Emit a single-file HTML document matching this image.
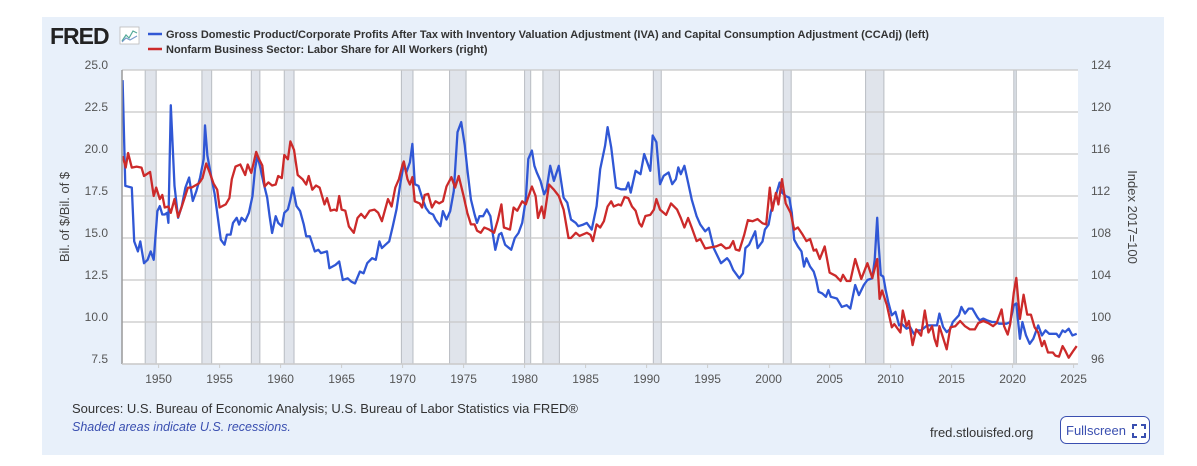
<!DOCTYPE html>
<html><head><meta charset="utf-8"><style>
body{margin:0;background:#fff;width:1197px;height:466px;overflow:hidden;font-family:"Liberation Sans",sans-serif;}
#panel{position:absolute;left:42px;top:17px;width:1122px;height:438px;background:#e8f0fa;}
</style></head><body>
<div id="panel"></div>
<svg id="chart" width="1197" height="466" style="position:absolute;left:0;top:0">
<g>
<text x="50" y="44" font-size="23" font-weight="bold" fill="#222" font-family="Liberation Sans,sans-serif" letter-spacing="-1">FRED</text>
<rect x="120" y="27" width="19" height="17" fill="#fff" stroke="#bbb" stroke-width="0.8"/>
<polyline points="122,41 126,35 129,38 133,31 137,33" fill="none" stroke="#5a9" stroke-width="1.2"/>
<polyline points="122,42 126,38 130,40 137,36" fill="none" stroke="#79c" stroke-width="1.2"/>
</g>
<g>
<line x1="148" y1="34" x2="162" y2="34" stroke="#3057d5" stroke-width="2.5"/>
<text x="166" y="38" font-size="11" font-weight="bold" fill="#333">Gross Domestic Product/Corporate Profits After Tax with Inventory Valuation Adjustment (IVA) and Capital Consumption Adjustment (CCAdj) (left)</text>
<line x1="148" y1="49" x2="162" y2="49" stroke="#cc2a2a" stroke-width="2.5"/>
<text x="166" y="53" font-size="11" font-weight="bold" fill="#333">Nonfarm Business Sector: Labor Share for All Workers (right)</text>
</g>
<rect x="122" y="70" width="956" height="294" fill="#fff"/>
<g id="rec"></g><g id="grid"></g><g id="lines"></g><g id="axes"></g>
<text transform="translate(69,217) rotate(-90)" text-anchor="middle" font-size="13" fill="#444">Bil. of $/Bil. of $</text>
<text transform="translate(1128,217) rotate(90)" text-anchor="middle" font-size="13" fill="#444">Index 2017=100</text>
<text x="72" y="413" font-size="13" fill="#333">Sources: U.S. Bureau of Economic Analysis; U.S. Bureau of Labor Statistics via FRED®</text>
<text x="72" y="431" font-size="12.5" font-style="italic" fill="#3a4fb0">Shaded areas indicate U.S. recessions.</text>
<text x="930" y="437" font-size="13" fill="#333">fred.stlouisfed.org</text>
<g>
<rect x="1060.5" y="416.5" width="89" height="27" rx="6" fill="#fff" stroke="#3a4fb0"/>
<text x="1066" y="435" font-size="13" fill="#3a4fb0">Fullscreen</text>
<path d="M1133 429v-4h4M1141 425h4v4M1145 433v4h-4M1137 437h-4v-4" fill="none" stroke="#3a4fb0" stroke-width="2"/>
</g>
</svg>
<script>
const blueYears=[1947.05,1947.27,1947.8,1948.0,1948.3,1948.5,1948.8,1949.1,1949.35,1949.6,1949.9,1950.1,1950.3,1950.5,1950.7,1950.8,1951.0,1951.3,1951.6,1951.9,1952.2,1952.5,1952.8,1953.1,1953.4,1953.7,1953.8,1954.0,1954.3,1954.6,1954.8,1955.1,1955.4,1955.6,1955.9,1956.1,1956.4,1956.6,1956.8,1957.1,1957.4,1957.7,1957.9,1958.1,1958.3,1958.6,1958.9,1959.1,1959.3,1959.6,1959.8,1960.1,1960.3,1960.6,1960.8,1961.0,1961.3,1961.6,1961.9,1962.1,1962.4,1962.8,1963.1,1963.3,1963.8,1964.0,1964.5,1964.8,1965.1,1965.5,1965.8,1966.1,1966.5,1966.8,1967.1,1967.5,1967.8,1968.1,1968.3,1968.6,1968.9,1969.2,1969.5,1969.8,1970.1,1970.3,1970.6,1970.8,1971.0,1971.3,1971.6,1971.9,1972.2,1972.5,1972.7,1973.1,1973.3,1973.6,1973.9,1974.2,1974.5,1974.8,1975.1,1975.3,1975.6,1975.9,1976.1,1976.3,1976.6,1976.9,1977.2,1977.4,1977.6,1977.9,1978.1,1978.4,1978.9,1979.2,1979.5,1979.8,1980.1,1980.3,1980.6,1980.8,1981.0,1981.3,1981.6,1981.8,1982.1,1982.4,1982.8,1983.2,1983.5,1983.8,1984.2,1984.4,1984.8,1985.1,1985.5,1985.9,1986.2,1986.6,1986.8,1987.1,1987.5,1987.9,1988.3,1988.5,1988.7,1989.1,1989.5,1989.8,1990.3,1990.5,1990.8,1991.1,1991.4,1991.8,1992.1,1992.4,1992.6,1992.8,1993.1,1993.4,1993.7,1994.1,1994.4,1994.8,1995.1,1995.5,1995.7,1996.1,1996.6,1996.8,1997.1,1997.6,1997.9,1998.1,1998.4,1998.9,1999.1,1999.5,1999.7,2000.0,2000.2,2000.5,2000.9,2001.1,2001.4,2001.7,2001.9,2002.1,2002.4,2002.7,2002.9,2003.1,2003.4,2003.7,2003.9,2004.1,2004.4,2004.7,2004.9,2005.1,2005.6,2006.0,2006.4,2006.7,2007.1,2007.4,2007.8,2008.1,2008.5,2008.7,2008.9,2009.0,2009.2,2009.4,2009.6,2009.8,2010.1,2010.4,2010.7,2010.9,2011.3,2011.6,2011.9,2012.2,2012.5,2013.0,2013.3,2013.8,2014.0,2014.3,2014.6,2014.9,2015.1,2015.6,2015.8,2016.1,2016.4,2016.7,2017.1,2017.3,2017.6,2017.9,2018.3,2018.6,2018.9,2019.5,2019.8,2020.1,2020.3,2020.6,2020.8,2021.1,2021.4,2021.7,2022.1,2022.4,2022.7,2023.0,2023.2,2023.6,2023.8,2024.1,2024.3,2024.6,2024.9,2025.25];
const blueValues=[24.4,18.1,18.0,14.8,14.2,14.8,13.5,13.7,14.2,13.7,16.6,16.9,16.4,16.4,16.5,15.9,22.9,18.1,16.2,16.9,18.0,18.6,17.2,17.8,18.6,19.7,21.7,19.9,18.7,17.6,16.5,14.9,14.6,15.2,15.2,15.9,16.2,15.8,16.2,16.0,16.5,17.5,19.1,19.9,19.3,18.3,17.4,16.3,15.3,16.3,15.9,15.7,16.5,16.7,17.3,18.0,16.9,16.6,15.8,15.1,15.1,14.2,14.3,14.1,14.2,13.2,13.4,13.6,12.5,12.6,12.4,12.3,13.0,12.9,13.5,13.8,13.7,14.8,14.4,14.6,14.8,15.7,16.7,18.2,19.4,18.9,19.5,20.6,18.2,18.1,17.4,16.8,16.5,16.4,16.1,15.7,16.6,16.1,16.6,17.8,21.3,21.9,20.5,19.1,17.3,16.4,15.9,16.3,16.3,16.7,16.3,15.2,14.3,15.2,15.3,14.6,14.3,15.0,15.3,15.9,17.3,19.7,20.2,19.3,18.9,18.4,17.6,17.9,19.3,18.4,19.3,17.4,17.1,16.1,15.9,15.7,15.8,15.9,15.5,16.9,19.1,20.5,21.6,20.4,18.0,17.9,17.9,18.3,17.7,19.0,18.8,20.0,19.0,21.1,20.7,18.2,18.7,18.9,18.2,18.5,19.2,18.8,19.3,18.3,17.3,16.3,15.8,15.4,15.6,14.4,14.1,13.5,13.8,13.6,13.1,12.6,12.9,14.4,14.6,15.4,14.4,14.8,15.5,15.8,16.6,17.3,18.3,17.7,17.5,17.4,16.5,14.9,14.5,14.2,13.3,13.8,13.3,13.0,12.5,11.8,11.7,11.5,11.9,11.5,11.4,10.9,11.0,10.8,12.2,11.6,12.2,12.5,12.6,13.7,16.2,14.8,12.8,12.7,11.9,11.2,10.4,10.6,9.8,9.9,9.6,9.7,9.3,9.5,9.5,9.8,9.8,9.8,10.5,9.7,9.4,9.6,10.0,10.4,10.9,10.5,10.8,10.8,10.3,10.1,10.2,10.1,10.0,10.0,9.9,9.9,10.0,11.0,11.1,9.0,10.0,9.2,8.7,9.0,9.8,9.2,9.5,9.3,9.3,9.3,9.1,9.5,9.4,9.6,9.2,9.3];
const redYears=[1947.05,1947.3,1947.5,1947.8,1948.2,1948.6,1948.8,1949.3,1949.6,1949.8,1950.1,1950.3,1950.5,1950.8,1951.0,1951.3,1951.6,1951.9,1952.1,1952.4,1952.7,1953.0,1953.3,1953.6,1953.9,1954.2,1954.5,1954.8,1955.0,1955.5,1955.8,1956.0,1956.3,1956.7,1957.1,1957.3,1957.6,1958.0,1958.2,1958.5,1958.7,1959.0,1959.3,1959.6,1959.8,1960.1,1960.3,1960.6,1960.8,1961.1,1961.4,1961.8,1962.1,1962.3,1962.6,1962.9,1963.2,1963.6,1963.8,1964.1,1964.4,1964.6,1964.8,1965.0,1965.3,1965.6,1966.0,1966.3,1966.6,1966.9,1967.3,1967.7,1968.0,1968.3,1968.8,1969.1,1969.4,1969.7,1970.0,1970.1,1970.4,1970.6,1970.8,1971.0,1971.4,1971.6,1971.8,1972.1,1972.4,1972.7,1973.0,1973.3,1973.6,1974.0,1974.3,1974.6,1975.0,1975.3,1975.6,1975.9,1976.1,1976.4,1976.7,1977.1,1977.5,1977.8,1978.1,1978.3,1978.8,1979.1,1979.4,1979.8,1980.1,1980.6,1980.9,1981.1,1981.4,1981.6,1982.0,1982.4,1982.8,1983.2,1983.6,1983.8,1984.2,1984.5,1985.1,1985.4,1985.6,1985.9,1986.2,1986.5,1986.8,1987.1,1987.3,1987.7,1987.9,1988.2,1988.5,1988.8,1989.1,1989.4,1989.6,1989.9,1990.3,1990.6,1990.8,1991.1,1991.6,1992.0,1992.5,1992.8,1993.1,1993.4,1993.7,1994.1,1994.4,1994.8,1995.2,1995.7,1996.1,1996.5,1996.8,1997.1,1997.3,1997.6,1998.0,1998.3,1998.7,1999.1,1999.5,1999.8,2000.1,2000.3,2000.6,2000.8,2001.1,2001.4,2001.8,2002.1,2002.4,2002.8,2003.1,2003.4,2003.7,2003.9,2004.2,2004.6,2005.0,2005.5,2005.9,2006.1,2006.4,2006.7,2007.1,2007.6,2008.1,2008.5,2008.9,2009.1,2009.3,2009.7,2010.1,2010.3,2010.8,2011.0,2011.3,2011.5,2011.8,2012.1,2012.5,2012.8,2013.1,2013.4,2013.6,2013.8,2014.0,2014.3,2014.6,2014.9,2015.3,2015.7,2016.1,2016.5,2016.9,2017.2,2017.6,2018.0,2018.4,2018.7,2019.1,2019.3,2019.6,2019.8,2020.1,2020.3,2020.6,2020.9,2021.2,2021.5,2021.8,2022.1,2022.4,2022.6,2022.9,2023.3,2023.5,2023.8,2024.1,2024.3,2024.6,2025.0,2025.25];
const redValues=[115.8,114.7,116.1,114.7,114.8,114.7,113.9,114.3,112.0,112.8,111.7,112.1,110.9,111.0,110.4,111.7,110.0,111.0,111.7,112.8,112.8,113.0,113.2,113.7,115.1,114.2,113.2,112.6,110.9,111.2,111.8,113.6,114.8,115.0,114.0,115.0,114.2,116.2,115.6,114.9,112.9,113.3,113.0,113.1,113.9,113.7,115.9,115.5,117.2,116.4,114.0,113.6,113.1,113.9,112.6,113.0,112.8,111.2,111.8,110.6,110.7,110.6,112.0,110.7,110.6,109.1,108.5,109.9,110.3,109.9,110.6,110.7,110.4,109.6,111.7,111.0,112.8,113.6,115.0,115.3,113.6,113.1,113.8,111.5,111.3,110.9,112.1,112.2,110.9,111.5,111.3,111.5,112.9,113.8,112.8,113.9,112.0,110.4,109.3,109.3,108.7,108.5,109.0,108.8,108.5,109.7,111.2,109.0,108.8,110.9,110.6,111.5,111.2,112.9,112.0,109.9,111.0,109.9,113.1,112.6,112.0,110.7,108.0,108.0,108.5,108.2,108.5,108.3,107.7,109.3,109.0,109.6,111.0,111.5,111.0,111.2,111.1,111.9,111.8,111.0,110.6,109.4,109.1,110.1,110.2,110.7,111.7,110.7,110.2,111.3,110.7,109.9,109.0,109.9,109.0,107.7,107.9,107.0,107.1,107.2,107.4,107.0,107.1,107.7,106.9,106.8,108.3,109.7,109.6,109.8,109.4,109.3,112.8,110.6,112.3,111.2,113.6,111.3,110.4,108.8,109.0,108.3,107.7,107.9,106.8,106.9,106.0,107.2,104.7,104.4,103.9,104.5,103.9,103.9,106.0,104.1,105.6,104.2,106.0,102.2,103.0,101.6,99.5,99.8,99.0,101.1,99.6,100.1,97.8,99.3,98.7,101.1,99.0,99.6,98.4,97.7,99.6,98.5,97.4,99.5,99.6,100.1,99.6,99.3,99.3,99.9,100.1,99.9,99.6,99.9,101.2,99.6,98.8,99.8,102.8,104.2,100.3,102.6,100.7,100.7,99.5,99.0,97.7,98.2,97.1,97.1,96.8,96.7,97.7,97.3,96.6,97.3,97.7];
const recStarts=[1948.9,1953.55,1957.6,1960.3,1969.9,1973.85,1980.0,1981.5,1990.55,2001.2,2007.95,2020.1];
const recEnds=[1949.8,1954.35,1958.3,1961.1,1970.85,1975.2,1980.5,1982.85,1991.2,2001.85,2009.45,2020.3];
const leftTicks=[7.5,10.0,12.5,15.0,17.5,20.0,22.5,25.0];
const rightTicks=[96,100,104,108,112,116,120,124];
const xTicks=[1950,1955,1960,1965,1970,1975,1980,1985,1990,1995,2000,2005,2010,2015,2020,2025];

const NS='http://www.w3.org/2000/svg';
const PL=122,PR=1078,PT=70,PB=364;
const xS=y=>PL+(y-1947)*(PR-PL)/(2025.36-1947);
const yL=v=>PB-(v-7.5)*(PB-PT)/(25-7.5);
const yR=v=>PB-(v-96)*(PB-PT)/(124-96);
function mk(tag,attrs,parent){const e=document.createElementNS(NS,tag);for(const k in attrs)e.setAttribute(k,attrs[k]);parent.appendChild(e);return e;}
const rec=document.getElementById('rec'),grid=document.getElementById('grid'),lines=document.getElementById('lines'),axes=document.getElementById('axes');
recStarts.forEach((s,i)=>{
  const x1=xS(s),x2=xS(recEnds[i]);
  const r=mk('rect',{x:x1,y:PT,width:Math.max(x2-x1,2),height:PB-PT,fill:'#e0e4eb',stroke:'#b8bcc2','stroke-width':1},rec);
  
  
});
leftTicks.forEach((v,i)=>{
  const y=yL(v);
  const g=mk('line',{x1:PL,x2:PR,y1:y,y2:y,stroke:'#c8c8c8','stroke-width':1.3},grid);
  
  
  const t=mk('text',{x:108,y:y-1,'text-anchor':'end','font-size':12,fill:'#555'},axes);
  t.textContent=v.toFixed(1);
  
  
});
rightTicks.forEach(v=>{
  const t=mk('text',{x:1091,y:yR(v)-1,'font-size':12,fill:'#555'},axes);
  t.textContent=v;
  
  
});
xTicks.forEach(yr=>{
  const x=xS(yr);
  mk('line',{x1:x,x2:x,y1:PB,y2:PB+4,stroke:'#ccc'},axes);
  const t=mk('text',{x:x,y:383,'text-anchor':'middle','font-size':12,fill:'#555'},axes);
  t.textContent=yr;
  
  
});
const la=mk('line',{x1:PL,x2:PL,y1:PT,y2:PB,stroke:'#999','stroke-width':1.5},axes);


const ba=mk('line',{x1:PL,x2:PR,y1:PB,y2:PB,stroke:'#ccc','stroke-width':1.5},axes);


const rp=mk('polyline',{points:redYears.map((y,i)=>xS(y).toFixed(1)+','+yR(redValues[i]).toFixed(1)).join(' '),fill:'none',stroke:'#cc2a2a','stroke-width':2.3,'stroke-linejoin':'round'},lines);


const bp=mk('polyline',{points:blueYears.map((y,i)=>xS(y).toFixed(1)+','+yL(blueValues[i]).toFixed(1)).join(' '),fill:'none',stroke:'#3057d5','stroke-width':2.3,'stroke-linejoin':'round'},lines);


lines.insertBefore(bp,rp);
</script>
</body></html>
